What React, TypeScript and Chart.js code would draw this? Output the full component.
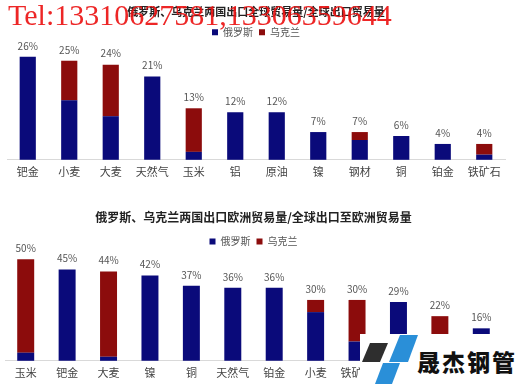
import React, { useEffect, useRef } from "react";
import { Chart, registerables } from "chart.js";

Chart.register(...registerables);

const RU_COLOR = "#0a0a7a";
const UA_COLOR = "#8c0c0c";

// Chart 1: share of global export trade
const globalCategories = ["钯金", "小麦", "大麦", "天然气", "玉米", "铝", "原油", "镍", "钢材", "铜", "铂金", "铁矿石"];
const globalRussia = [26, 15, 11, 21, 2, 12, 12, 7, 5, 6, 4, 1.3];
const globalUkraine = [0, 10, 13, 0, 11, 0, 0, 0, 2, 0, 0, 2.7];
const globalTotals = ["26%", "25%", "24%", "21%", "13%", "12%", "12%", "7%", "7%", "6%", "4%", "4%"];

// Chart 2: share of exports to Europe
const europeCategories = ["玉米", "钯金", "大麦", "镍", "铜", "天然气", "铂金", "小麦", "铁矿石", "铝", "钢材", "原油"];
const europeRussia = [4, 45, 2, 42, 37, 36, 36, 24, 9.5, 29, 6, 16];
const europeUkraine = [46, 0, 42, 0, 0, 0, 0, 6, 20.5, 0, 16, 0];
const europeTotals = ["50%", "45%", "44%", "42%", "37%", "36%", "36%", "30%", "30%", "29%", "22%", "16%"];

const FONT = "'Noto Sans CJK SC', 'Noto Sans', sans-serif";

const totalsPlugin = (labels: string[]) => ({
  id: "totals",
  afterDatasetsDraw(chart: any) {
    const ctx = chart.ctx;
    const metaTop = chart.getDatasetMeta(1);
    const metaBot = chart.getDatasetMeta(0);
    ctx.save();
    ctx.font = `10px ${FONT}`;
    ctx.fillStyle = "#555555";
    ctx.textAlign = "center";
    ctx.textBaseline = "bottom";
    labels.forEach((lab, i) => {
      const a = metaTop.data[i];
      const b = metaBot.data[i];
      const y = Math.min(a.y, b.y);
      ctx.fillText(lab, a.x, y - 6);
    });
    ctx.restore();
  },
});

function BarPanel(props: {
  categories: string[];
  russia: number[];
  ukraine: number[];
  totals: string[];
  title: string;
  yMax: number;
  barPct: number;
  padLeft: number;
  padRight: number;
  padBottom: number;
  tickPad: number;
  titleSize: number;
  titleTop: number;
  titleBottom: number;
  legendPad: number;
  height: number;
}) {
  const ref = useRef<HTMLCanvasElement>(null);
  useEffect(() => {
    if (!ref.current) return;
    const chart = new Chart(ref.current, {
      type: "bar",
      data: {
        labels: props.categories,
        datasets: [
          {
            label: "俄罗斯",
            data: props.russia,
            backgroundColor: RU_COLOR,
            barPercentage: props.barPct,
            categoryPercentage: 1,
            clip: false,
          },
          {
            label: "乌克兰",
            data: props.ukraine,
            backgroundColor: UA_COLOR,
            barPercentage: props.barPct,
            categoryPercentage: 1,
            clip: false,
          },
        ],
      },
      options: {
        animation: false,
        responsive: false,
        maintainAspectRatio: false,
        layout: { padding: { left: props.padLeft, right: props.padRight, top: 0, bottom: props.padBottom } },
        plugins: {
          title: {
            display: true,
            text: props.title,
            color: "#222222",
            font: { family: FONT, size: props.titleSize, weight: "bold" },
            padding: { top: props.titleTop, bottom: props.titleBottom },
          },
          legend: {
            display: true,
            position: "top",
            labels: {
              boxWidth: 6,
              boxHeight: 6,
              color: "#555555",
              font: { family: FONT, size: 10 },
              padding: 6,
            },
          },
          tooltip: { enabled: false },
        },
        scales: {
          x: {
            stacked: true,
            grid: { display: false, drawTicks: false },
            border: { display: true, color: "#d9d9d9" },
            ticks: { color: "#444444", font: { family: FONT, size: 11 }, padding: props.tickPad },
          },
          y: {
            stacked: true,
            display: false,
            min: 0,
            max: props.yMax,
          },
        },
      },
      plugins: [
        totalsPlugin(props.totals),
        {
          id: "legendPad",
          beforeInit(c: any) {
            const orig = c.legend.fit;
            c.legend.fit = function () {
              orig.bind(c.legend)();
              this.height += props.legendPad;
            };
          },
        },
      ],
    });
    return () => chart.destroy();
  }, []);
  return <canvas ref={ref} width={520} height={props.height} style={{ display: "block", width: 520, height: props.height }} />;
}

export default function App() {
  return (
    <div style={{ position: "fixed", left: 0, top: 0, width: 520, height: 384, background: "#fff", overflow: "hidden" }}>
      <BarPanel
        categories={globalCategories}
        russia={globalRussia}
        ukraine={globalUkraine}
        totals={globalTotals}
        title="俄罗斯、乌克兰两国出口全球贸易量/全球出口贸易量"
        yMax={26.9}
        barPct={0.39}
        padLeft={7}
        padRight={15}
        padBottom={9}
        tickPad={5}
        titleSize={11}
        titleTop={5}
        titleBottom={3}
        legendPad={6}
        height={192}
      />
      <BarPanel
        categories={europeCategories}
        russia={europeRussia}
        ukraine={europeUkraine}
        totals={europeTotals}
        title="俄罗斯、乌克兰两国出口欧洲贸易量/全球出口至欧洲贸易量"
        yMax={48.5}
        barPct={0.41}
        padLeft={5}
        padRight={18}
        padBottom={0}
        tickPad={5}
        titleSize={12}
        titleTop={18}
        titleBottom={6}
        legendPad={6}
        height={192}
      />
      <div
        style={{
          position: "absolute",
          left: 8,
          top: -2,
          fontFamily: "'Liberation Serif', serif",
          fontSize: 30,
          color: "rgba(235,20,20,0.92)",
          whiteSpace: "nowrap",
          pointerEvents: "none",
        }}
      >
        Tel:13310627581,13306359644
      </div>
      <div style={{ position: "absolute", left: 360, top: 334, width: 160, height: 50, background: "#fff" }}>
        <svg width={160} height={50} style={{ position: "absolute", left: 0, top: 0 }}>
          <polygon points="10,9 28,9 20,28 2,28" fill="#2e2e2e" />
          <polygon points="40,1 58,1 48,28 29,28" fill="#2a8fd8" />
          <polygon points="23,29 40,29 32,50 15,50" fill="#2a8fd8" />
        </svg>
        <div
          style={{
            position: "absolute",
            left: 57,
            top: 10,
            fontFamily: "'Noto Sans CJK SC', sans-serif",
            fontWeight: 900,
            fontSize: 23,
            letterSpacing: 2,
            color: "#111",
            whiteSpace: "nowrap",
          }}
        >
          晟杰钢管
        </div>
      </div>
    </div>
  );
}
